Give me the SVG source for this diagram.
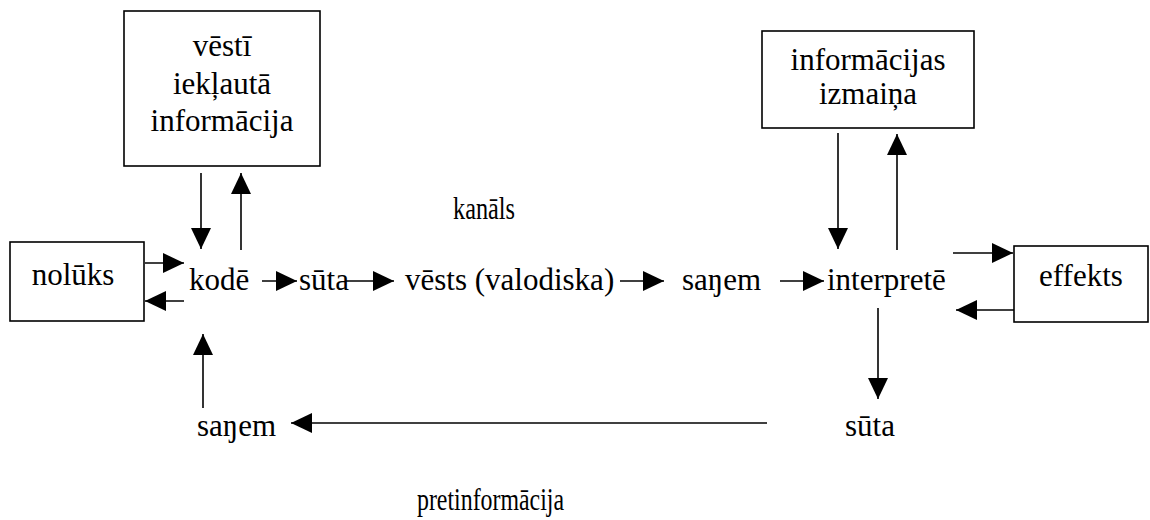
<svg xmlns="http://www.w3.org/2000/svg" width="1150" height="520" viewBox="0 0 1150 520">
  <style>
    .box { fill: #fff; stroke: #000; stroke-width: 1.6; }
    .lbl { font-family: 'Liberation Serif', 'Times New Roman', Times, serif; font-size: 31px; fill: #000; }
    .mid { text-anchor: middle; }
    .edge { stroke: #000; stroke-width: 1.6; fill: none; marker-end: url(#head); }
  </style>
  <defs>
    <marker id="head" markerUnits="userSpaceOnUse" markerWidth="22" markerHeight="22" refX="21" refY="10" orient="auto">
      <path d="M0,0 L21,10 L0,20 Z" fill="#000"/>
    </marker>
  </defs>
  <rect width="1150" height="520" fill="#fff"/>

  <!-- boxed nodes -->
  <g id="node-vesti">
    <rect class="box" x="124" y="11" width="196" height="155"/>
    <text class="lbl mid" x="222" y="56">vēstī</text>
    <text class="lbl mid" x="222" y="94">iekļautā</text>
    <text class="lbl mid" x="222" y="131">informācija</text>
  </g>
  <g id="node-izmaina">
    <rect class="box" x="762" y="31" width="212" height="97"/>
    <text class="lbl mid" x="868" y="70">informācijas</text>
    <text class="lbl mid" x="868" y="104">izmaiņa</text>
  </g>
  <g id="node-noluks">
    <rect class="box" x="10" y="242" width="134" height="79"/>
    <text class="lbl mid" x="73" y="285">nolūks</text>
  </g>
  <g id="node-effekts">
    <rect class="box" x="1014" y="246" width="134" height="76"/>
    <text class="lbl mid" x="1081" y="286">effekts</text>
  </g>

  <!-- unboxed steps -->
  <g id="node-kode"><text class="lbl" x="189" y="290">kodē</text></g>
  <g id="node-suta1"><text class="lbl" x="299" y="290">sūta</text></g>
  <g id="node-vests"><text class="lbl" x="405" y="290">vēsts (valodiska)</text></g>
  <g id="node-sanem1"><text class="lbl" x="682" y="290">saŋem</text></g>
  <g id="node-interprete"><text class="lbl" x="827" y="290">interpretē</text></g>
  <g id="node-sanem2"><text class="lbl" x="197" y="436">saŋem</text></g>
  <g id="node-suta2"><text class="lbl" x="845" y="436">sūta</text></g>
  <g id="label-kanals"><text class="lbl" x="453" y="219" textLength="62" lengthAdjust="spacingAndGlyphs">kanāls</text></g>
  <g id="label-pretinfo"><text class="lbl" x="417" y="510" textLength="147" lengthAdjust="spacingAndGlyphs">pretinformācija</text></g>

  <!-- connectors -->
  <g id="connectors">
    <line class="edge" x1="201" y1="173" x2="201" y2="249"/>
    <line class="edge" x1="241" y1="250" x2="241" y2="173"/>
    <line class="edge" x1="145" y1="263" x2="184" y2="263"/>
    <line class="edge" x1="184" y1="301" x2="145" y2="301"/>
    <line class="edge" x1="262" y1="281" x2="297" y2="281"/>
    <line class="edge" x1="345" y1="281" x2="394" y2="281"/>
    <line class="edge" x1="620" y1="281" x2="664" y2="281"/>
    <line class="edge" x1="780" y1="281" x2="824" y2="281"/>
    <line class="edge" x1="838" y1="133" x2="838" y2="249"/>
    <line class="edge" x1="897" y1="250" x2="897" y2="134"/>
    <line class="edge" x1="953" y1="253" x2="1013" y2="253"/>
    <line class="edge" x1="1014" y1="310" x2="956" y2="310"/>
    <line class="edge" x1="878" y1="308" x2="878" y2="399"/>
    <line class="edge" x1="767" y1="423" x2="291" y2="423"/>
    <line class="edge" x1="203" y1="408" x2="203" y2="334"/>
  </g>
</svg>
